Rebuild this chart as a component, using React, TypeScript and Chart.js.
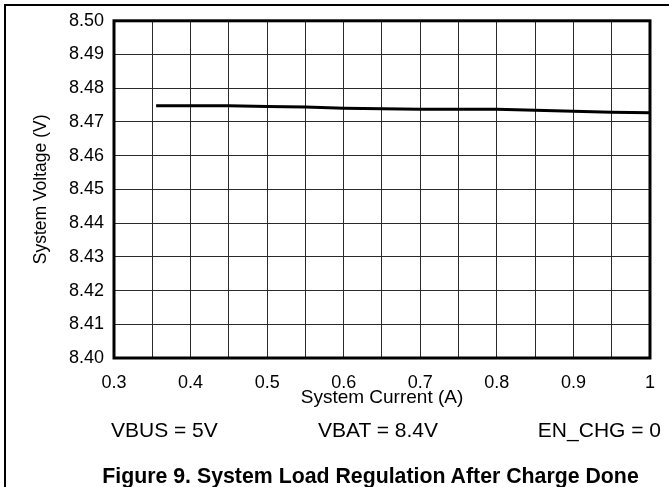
import React, { useEffect, useRef } from "react";
import { Chart, registerables } from "chart.js";

Chart.register(...registerables);

const currentA = [0.355, 0.45, 0.5, 0.55, 0.6, 0.65, 0.7, 0.75, 0.8, 0.85, 0.9, 0.95, 1.0];
const voltageV = [8.4748, 8.4748, 8.4746, 8.4744, 8.4741, 8.4739, 8.4738, 8.4738, 8.4738, 8.4735, 8.4732, 8.4729, 8.4727];
const xTickLabels = ["0.3", "0.4", "0.5", "0.6", "0.7", "0.8", "0.9", "1"];
const yTickLabels = ["8.40", "8.41", "8.42", "8.43", "8.44", "8.45", "8.46", "8.47", "8.48", "8.49", "8.50"];
const xTitle = "System Current (A)";
const yTitle = "System Voltage (V)";
const conditions = ["VBUS = 5V", "VBAT = 8.4V", "EN_CHG = 0"];
const caption = "Figure 9. System Load Regulation After Charge Done";

const FONT = "'Liberation Sans', Arial, Helvetica, sans-serif";

const frameRect = {
  id: "frameRect",
  afterDraw(chart: any) {
    const { ctx, chartArea } = chart;
    ctx.save();
    ctx.strokeStyle = "#000";
    ctx.lineWidth = 3;
    ctx.strokeRect(chartArea.left, chartArea.top, chartArea.right - chartArea.left, chartArea.bottom - chartArea.top);
    ctx.restore();
  },
};

export default function App() {
  const ref = useRef<HTMLCanvasElement | null>(null);
  useEffect(() => {
    if (!ref.current) return;
    const chart = new Chart(ref.current, {
      type: "line",
      data: {
        datasets: [
          {
            data: currentA.map((x, i) => ({ x, y: voltageV[i] })),
            borderColor: "#000",
            borderWidth: 3,
            pointRadius: 0,
            tension: 0,
            fill: false,
          },
        ],
      },
      options: {
        animation: false,
        responsive: false,
        devicePixelRatio: 1,
        layout: { padding: { top: 17, right: 17, left: 0, bottom: 0 } },
        plugins: { legend: { display: false }, tooltip: { enabled: false } },
        scales: {
          x: {
            type: "linear",
            min: 0.3,
            max: 1,
            afterFit: (s: any) => {
              s.height = 129;
            },
            border: { display: false },
            grid: { color: "#2a2a2a", lineWidth: 1, drawTicks: false },
            ticks: {
              stepSize: 0.05,
              autoSkip: false,
              maxRotation: 0,
              padding: 14,
              color: "#000",
              font: { family: FONT, size: 18 },
              callback: (v: any) => {
                const k = Math.round((Number(v) - 0.3) / 0.05);
                return k % 2 === 0 ? xTickLabels[k / 2] : "";
              },
            },
            title: {
              display: true,
              text: xTitle,
              color: "#000",
              font: { family: FONT, size: 19 },
              padding: { top: 0, bottom: 78 },
            },
          },
          y: {
            type: "linear",
            min: 8.4,
            max: 8.5,
            afterFit: (s: any) => {
              s.width = 114;
            },
            border: { display: false },
            grid: { color: "#2a2a2a", lineWidth: 1, drawTicks: false },
            ticks: {
              stepSize: 0.01,
              autoSkip: false,
              padding: 10,
              color: "#000",
              font: { family: FONT, size: 18 },
              callback: (v: any) => {
                const k = Math.round((Number(v) - 8.4) / 0.01);
                return yTickLabels[k] ?? "";
              },
            },
            title: {
              display: true,
              text: yTitle,
              color: "#000",
              font: { family: FONT, size: 17.5 },
              padding: { top: 31, bottom: 0 },
            },
          },
        },
      },
      plugins: [frameRect],
    });
    return () => chart.destroy();
  }, []);

  const textBase: React.CSSProperties = {
    position: "absolute",
    fontFamily: FONT,
    fontSize: 21,
    lineHeight: "21px",
    color: "#000",
    whiteSpace: "nowrap",
  };

  return (
    <div style={{ position: "absolute", left: 0, top: 0, width: 669, height: 487, background: "#fff", overflow: "hidden" }}>
      <div
        style={{
          position: "absolute",
          left: 4,
          top: 4,
          width: 800,
          height: 600,
          borderTop: "2px solid #000",
          borderLeft: "2px solid #000",
        }}
      />
      <canvas ref={ref} width={669} height={487} style={{ position: "absolute", left: 0, top: 0 }} />
      <div style={{ ...textBase, left: 111, top: 419 }}>{conditions[0]}</div>
      <div style={{ ...textBase, left: 378, top: 419, transform: "translateX(-50%)" }}>{conditions[1]}</div>
      <div style={{ ...textBase, right: 8, top: 419 }}>{conditions[2]}</div>
      <div
        style={{
          ...textBase,
          fontSize: 21.3,
          fontWeight: "bold",
          left: 370.5,
          top: 466,
          transform: "translateX(-50%)",
        }}
      >
        {caption}
      </div>
    </div>
  );
}
